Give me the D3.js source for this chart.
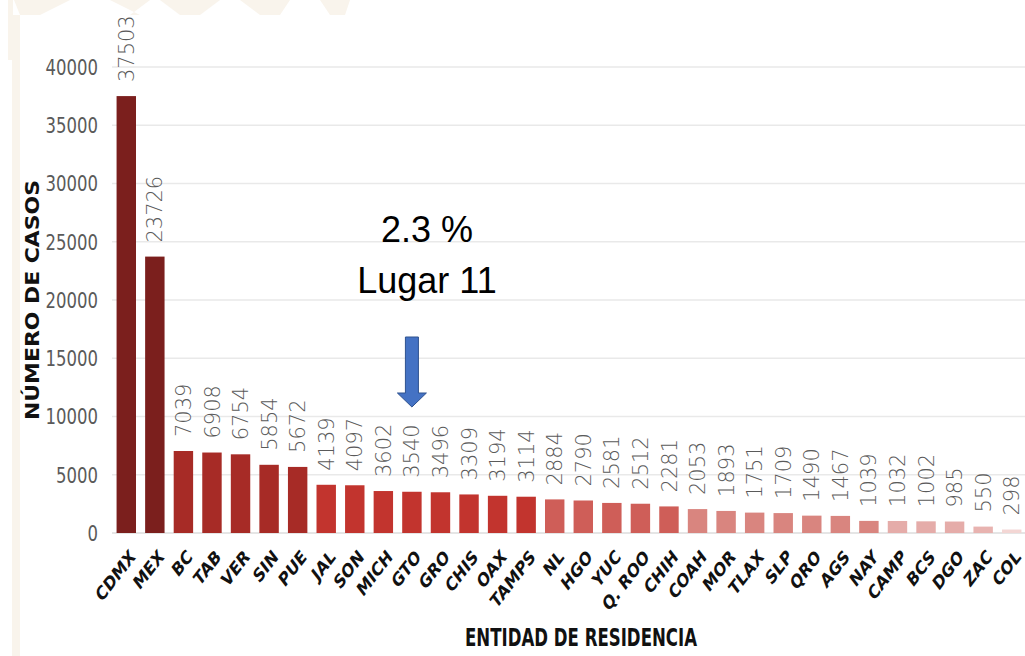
<!DOCTYPE html>
<html>
<head>
<meta charset="utf-8">
<script src="https://cdn.jsdelivr.net/npm/d3@7"></script>
<style>
html,body{margin:0;padding:0;background:#fff;}
svg{display:block;}
</style>
</head>
<body>
<svg id="chart" width="1025" height="656"></svg>
<script>
const categories = ["CDMX","MEX","BC","TAB","VER","SIN","PUE","JAL","SON","MICH","GTO","GRO","CHIS","OAX","TAMPS","NL","HGO","YUC","Q. ROO","CHIH","COAH","MOR","TLAX","SLP","QRO","AGS","NAY","CAMP","BCS","DGO","ZAC","COL"];
const casos = [37503,23726,7039,6908,6754,5854,5672,4139,4097,3602,3540,3496,3309,3194,3114,2884,2790,2581,2512,2281,2053,1893,1751,1709,1490,1467,1039,1032,1002,985,550,298];
const yTicks = [0,5000,10000,15000,20000,25000,30000,35000,40000];
const yTitle = "NÚMERO DE CASOS";
const xTitle = "ENTIDAD DE RESIDENCIA";
const noteLines = ["2.3 %","Lugar 11"];
const highlight = "GTO";

const svg = d3.select("#chart");
const W = 1025, H = 656;

// background decoration
svg.append("rect").attr("width",W).attr("height",H).attr("fill","#fff");
const bg = svg.append("g").attr("fill","#f9f4ec");
bg.append("rect").attr("x",12).attr("y",15).attr("width",8).attr("height",H-15);
bg.append("rect").attr("x",8).attr("y",0).attr("width",5).attr("height",60);
[[14,70,40,20],[110,150,130,140],[160,220,200,180],[240,290,280,260],[320,350,345,330]].forEach(([a,b,c,d])=>{
  bg.append("path").attr("d",`M${a},0 L${b},0 L${c},15 L${d},15 Z`);
});

const x = d3.scaleBand().domain(categories).range([112,1026]).paddingInner(0.32).paddingOuter(0.16);
const y = d3.scaleLinear().domain([0,40000]).range([533,67]);

const color = d3.scaleThreshold()
  .domain([500,700,1035,2100,3000,5000,10000])
  .range(["#f3d6d4","#e8b3b0","#e5aca9","#d9857f","#cf5e58","#c2342e","#a72b26","#7b1f1d"]);

// gridlines
const grid = svg.append("g");
grid.selectAll("line").data(yTicks).join("line")
  .attr("x1",112).attr("x2",W)
  .attr("y1",d=>y(d)).attr("y2",d=>y(d))
  .attr("stroke",d=>d===0?"#dcdcdc":"#e9e9e9").attr("stroke-width",1.5);

// y tick labels (via axis)
const yAxis = svg.append("g").attr("transform","translate(112,0)")
  .call(d3.axisLeft(y).tickValues(yTicks).tickSize(0).tickPadding(14).tickFormat(d3.format("d")));
yAxis.select(".domain").remove();
yAxis.selectAll("text")
  .attr("font-family","DejaVu Sans").attr("font-size",22).attr("fill","#5a5a5a")
  .attr("x",null).attr("dy",null)
  .attr("dominant-baseline","central")
  .attr("transform",d=>`translate(-14,0) scale(0.75,1)`);

// bars
svg.append("g").selectAll("rect").data(categories).join("rect")
  .attr("x",d=>x(d)).attr("width",x.bandwidth())
  .attr("y",(d,i)=>y(casos[i])).attr("height",(d,i)=>y(0)-y(casos[i]))
  .attr("fill",(d,i)=>color(casos[i]));

// value labels
svg.append("g").selectAll("text").data(categories).join("text")
  .attr("transform",(d,i)=>`translate(${x(d)+x.bandwidth()/2},${y(casos[i])-14}) rotate(-90)`)
  .attr("dy","0.36em")
  .attr("font-family","DejaVu Sans").attr("font-weight",300).attr("font-size",21).attr("fill","#5a5a5a")
  .text((d,i)=>casos[i]);

// x labels
svg.append("g").selectAll("text").data(categories).join("text")
  .attr("transform",d=>`translate(${x(d)+x.bandwidth()/2+10},${558}) scale(0.77,1) rotate(-45)`)
  .attr("text-anchor","end")
  .attr("font-family","DejaVu Sans").attr("font-weight","bold").attr("font-size",19).attr("fill","#111")
  .text(d=>d);

// axis titles
svg.append("text")
  .attr("transform","translate(39,300) rotate(-90)")
  .attr("text-anchor","middle")
  .attr("font-family","DejaVu Sans").attr("font-weight","bold").attr("font-size",19).attr("fill","#111")
  .attr("textLength",240).attr("lengthAdjust","spacingAndGlyphs")
  .text(yTitle);

svg.append("text")
  .attr("x",581).attr("y",646)
  .attr("text-anchor","middle")
  .attr("font-family","DejaVu Sans").attr("font-weight","bold").attr("font-size",24).attr("fill","#111")
  .attr("textLength",232).attr("lengthAdjust","spacingAndGlyphs")
  .text(xTitle);

// annotation
const cx = x(highlight)+x.bandwidth()/2;
svg.append("g").selectAll("text").data(noteLines).join("text")
  .attr("x",427).attr("y",(d,i)=>242+i*51)
  .attr("text-anchor","middle")
  .attr("font-family","Liberation Sans").attr("font-size",36).attr("fill","#000")
  .text(d=>d);

const arrowTop = 337, headBase = 393, tip = 407;
svg.append("path")
  .attr("d",`M${cx-6.5},${arrowTop} L${cx+6.5},${arrowTop} L${cx+6.5},${headBase} L${cx+14.5},${headBase} L${cx},${tip} L${cx-14.5},${headBase} L${cx-6.5},${headBase} Z`)
  .attr("fill","#4472c4").attr("stroke","#2f528f").attr("stroke-width",1);
</script>
</body>
</html>
